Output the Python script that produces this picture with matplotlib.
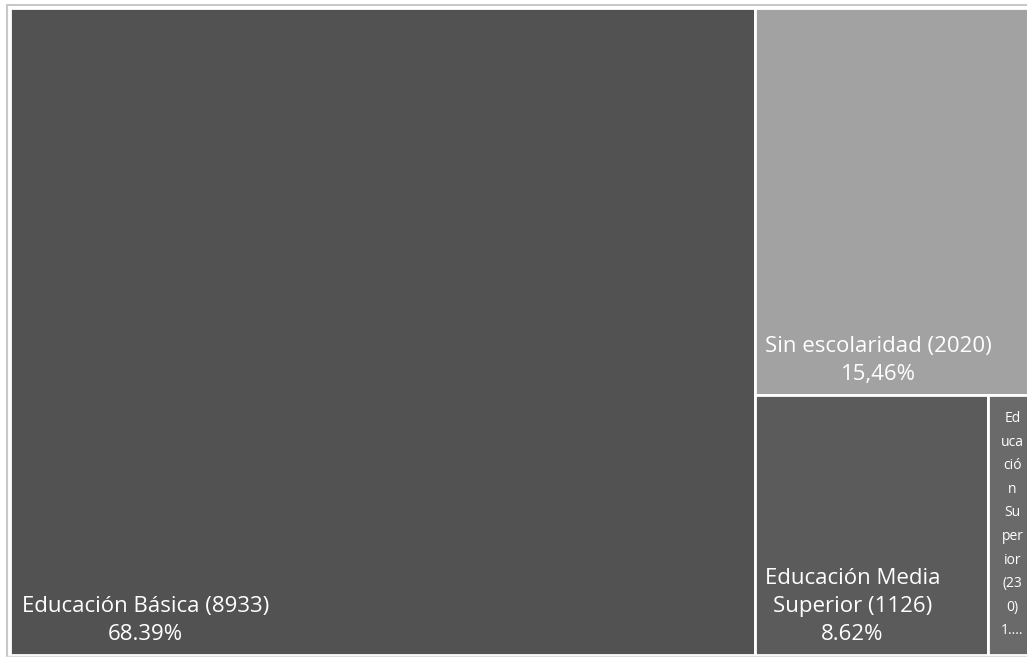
import matplotlib.pyplot as plt
from matplotlib.patches import Rectangle

# Data
names = ['Educación Básica', 'Sin escolaridad', 'Educación Media Superior', 'Educación Superior']
values = [8933, 2020, 1126, 230]
percents = ['68.39%', '15,46%', '8.62%', '1....']
# remaining share that sits outside the cropped view (implied by the percentages)
others = 753
colors = ['#525252', '#a2a2a2', '#5b5b5b', '#6a6a6a']

total = sum(values) + others

fig = plt.figure(figsize=(10.27, 6.57), dpi=100)
ax = fig.add_axes([0, 0, 1, 1])
ax.set_xlim(0, 1027)
ax.set_ylim(657, 0)
ax.axis('off')

# frame of the widget
ax.plot([7, 7, 1027], [656, 5, 5], color='#c8c8c8', lw=1.5)
ax.plot([7, 1027], [656, 656], color='#dddddd', lw=1)

x0, y0, H = 10, 8, 647
W = 1089  # full width of the treemap (cropped on the right)

# column 1: largest item
w1 = W * values[0] / total
# column 2: next three items
col2 = sum(values[1:])
w2 = W * col2 / total
h_sin = H * values[1] / col2
bottom = values[2] + values[3]
w_media = w2 * values[2] / bottom
w_sup = w2 * values[3] / bottom

rects = [
    (x0, y0, w1, H),
    (x0 + w1, y0, w2, h_sin),
    (x0 + w1, y0 + h_sin, w_media, H - h_sin),
    (x0 + w1 + w_media, y0 + h_sin, w_sup, H - h_sin),
]

for (x, y, w, h), c in zip(rects, colors):
    ax.add_patch(Rectangle((x, y), w, h, facecolor=c, edgecolor='white', lw=2))

font = dict(color='white', family='Open Sans', fontsize=16, linespacing=1.45)

# labels anchored at bottom-left of each box
x, y, w, h = rects[0]
ax.text(x + 12, y + h - 10, f'{names[0]} ({values[0]})\n{percents[0]}',
        ha='left', va='bottom', multialignment='center', **font)
x, y, w, h = rects[1]
ax.text(x + 10, y + h - 10, f'{names[1]} ({values[1]})\n{percents[1]}',
        ha='left', va='bottom', multialignment='center', **font)
x, y, w, h = rects[2]
ax.text(x + 10, y + h - 10, f'Educación Media\nSuperior ({values[2]})\n{percents[2]}',
        ha='left', va='bottom', multialignment='center', **font)
x, y, w, h = rects[3]
sup_lines = ['Ed', 'uca', 'ció', 'n', 'Su', 'per', 'ior', f'({str(values[3])[:2]}', f'{str(values[3])[2:]})', percents[3]]
ax.text(x + w / 2, y + 16, '\n'.join(sup_lines), ha='center', va='top',
        color='white', family='Open Sans', fontsize=10, linespacing=1.78)

fig.savefig('out.png', dpi=100)
